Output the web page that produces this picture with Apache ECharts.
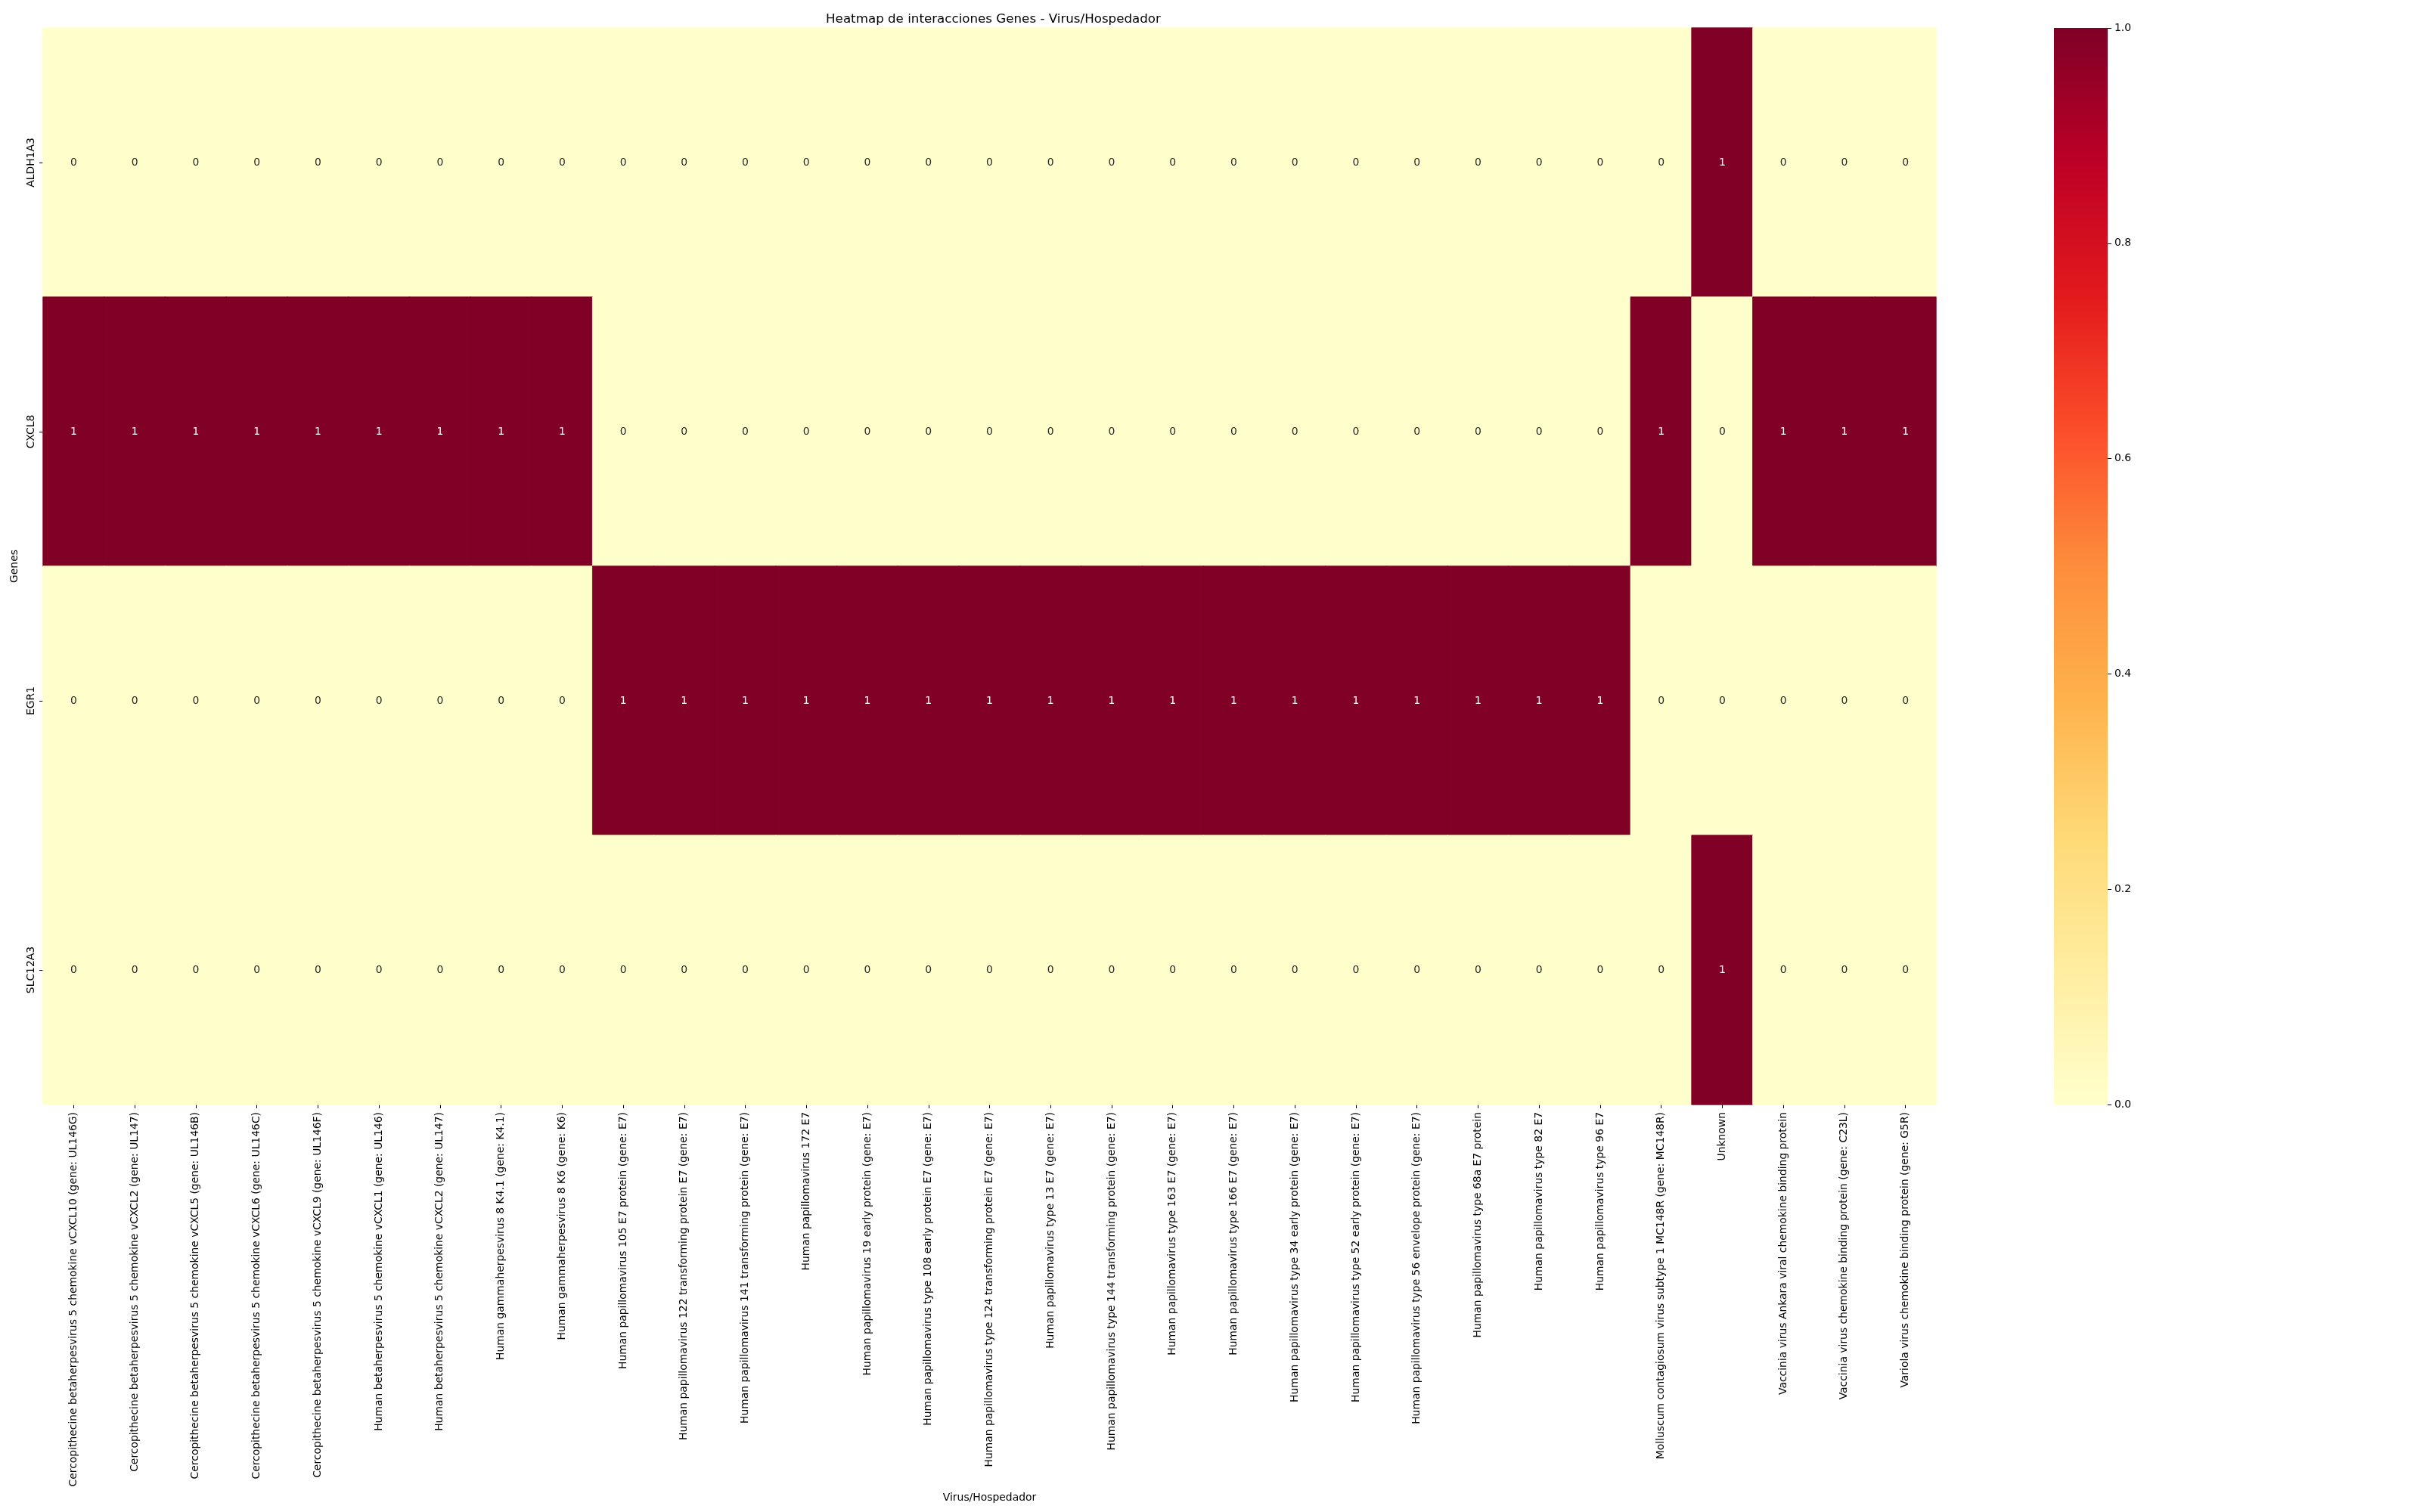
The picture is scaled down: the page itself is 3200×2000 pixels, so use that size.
<!DOCTYPE html>
<html>
<head>
<meta charset="utf-8">
<script src="https://cdn.jsdelivr.net/npm/echarts@6/dist/echarts.min.js"></script>
<style>
html,body{margin:0;padding:0;background:#fff;}
#chart{width:3200px;height:2000px;}
</style>
</head>
<body>
<div id="chart"></div>
<script>
const viruses = [
  "Cercopithecine betaherpesvirus 5 chemokine vCXCL10 (gene: UL146G)",
  "Cercopithecine betaherpesvirus 5 chemokine vCXCL2 (gene: UL147)",
  "Cercopithecine betaherpesvirus 5 chemokine vCXCL5 (gene: UL146B)",
  "Cercopithecine betaherpesvirus 5 chemokine vCXCL6 (gene: UL146C)",
  "Cercopithecine betaherpesvirus 5 chemokine vCXCL9 (gene: UL146F)",
  "Human betaherpesvirus 5 chemokine vCXCL1 (gene: UL146)",
  "Human betaherpesvirus 5 chemokine vCXCL2 (gene: UL147)",
  "Human gammaherpesvirus 8 K4.1 (gene: K4.1)",
  "Human gammaherpesvirus 8 K6 (gene: K6)",
  "Human papillomavirus 105 E7 protein (gene: E7)",
  "Human papillomavirus 122 transforming protein E7 (gene: E7)",
  "Human papillomavirus 141 transforming protein (gene: E7)",
  "Human papillomavirus 172 E7",
  "Human papillomavirus 19 early protein (gene: E7)",
  "Human papillomavirus type 108 early protein E7 (gene: E7)",
  "Human papillomavirus type 124 transforming protein E7 (gene: E7)",
  "Human papillomavirus type 13 E7 (gene: E7)",
  "Human papillomavirus type 144 transforming protein (gene: E7)",
  "Human papillomavirus type 163 E7 (gene: E7)",
  "Human papillomavirus type 166 E7 (gene: E7)",
  "Human papillomavirus type 34 early protein (gene: E7)",
  "Human papillomavirus type 52 early protein (gene: E7)",
  "Human papillomavirus type 56 envelope protein (gene: E7)",
  "Human papillomavirus type 68a E7 protein",
  "Human papillomavirus type 82 E7",
  "Human papillomavirus type 96 E7",
  "Molluscum contagiosum virus subtype 1 MC148R (gene: MC148R)",
  "Unknown",
  "Vaccinia virus Ankara viral chemokine binding protein",
  "Vaccinia virus chemokine binding protein (gene: C23L)",
  "Variola virus chemokine binding protein (gene: G5R)"
];
const genes = ["ALDH1A3", "CXCL8", "EGR1", "SLC12A3"];
const aldh1a3Values = [0,0,0,0,0,0,0,0,0, 0,0,0,0,0,0,0,0,0,0,0,0,0,0,0,0,0, 0,1,0,0,0];
const cxcl8Values   = [1,1,1,1,1,1,1,1,1, 0,0,0,0,0,0,0,0,0,0,0,0,0,0,0,0,0, 1,0,1,1,1];
const egr1Values    = [0,0,0,0,0,0,0,0,0, 1,1,1,1,1,1,1,1,1,1,1,1,1,1,1,1,1, 0,0,0,0,0];
const slc12a3Values = [0,0,0,0,0,0,0,0,0, 0,0,0,0,0,0,0,0,0,0,0,0,0,0,0,0,0, 0,1,0,0,0];
const colorbarMin = 0, colorbarMax = 1, colorbarStep = 0.2;

const rows = [aldh1a3Values, cxcl8Values, egr1Values, slc12a3Values];
const ylorrd = ['#ffffcc','#ffeda0','#fed976','#feb24c','#fd8d3c','#fc4e2a','#e31a1c','#bd0026','#800026'];
const FONT = 'DejaVu Sans';

function cmap(v) {
  const t = (v - colorbarMin) / (colorbarMax - colorbarMin);
  return ylorrd[Math.round(t * (ylorrd.length - 1))];
}

const heatData = [];
rows.forEach((row, gi) => {
  row.forEach((v, vi) => {
    heatData.push({
      value: [vi, gi, v],
      itemStyle: { borderColor: cmap(v), borderWidth: 0.8 },
      label: { color: v > 0.5 ? '#ffffff' : '#262626' }
    });
  });
});

const gridL = 57, gridT = 37, gridW = 2503, gridH = 1424;

const chart = echarts.init(document.getElementById('chart'), null, {renderer: 'canvas'});
chart.setOption({
  backgroundColor: '#ffffff',
  animation: false,
  textStyle: { fontFamily: FONT },
  title: {
    text: 'Heatmap de interacciones Genes - Virus/Hospedador',
    left: gridL + gridW / 2,
    textAlign: 'center',
    top: 12,
    textStyle: { fontFamily: FONT, fontSize: 16.7, fontWeight: 'normal', color: '#000' }
  },
  grid: [
    { left: gridL, top: gridT, width: gridW, height: gridH, containLabel: false },
    { left: 2716, top: gridT, width: 71, height: gridH, containLabel: false }
  ],
  xAxis: [
    {
      type: 'category', gridIndex: 0, data: viruses,
      axisLine: { show: false },
      axisTick: { show: true, alignWithLabel: true, length: 5, lineStyle: { color: '#000', width: 1 } },
      axisLabel: { rotate: 90, interval: 0, margin: 10, fontSize: 13.9, color: '#000', fontFamily: FONT },
      splitLine: { show: false },
      name: 'Virus/Hospedador', nameLocation: 'middle', nameGap: 496,
      nameTextStyle: { fontSize: 13.9, color: '#000', fontFamily: FONT }
    },
    {
      type: 'category', gridIndex: 1, data: ['cb'], show: false
    }
  ],
  yAxis: [
    {
      type: 'category', gridIndex: 0, data: genes, inverse: true,
      axisLine: { show: false },
      axisTick: { show: true, alignWithLabel: true, length: 5, lineStyle: { color: '#000', width: 1 } },
      axisLabel: { rotate: 90, interval: 0, margin: 9, fontSize: 13.9, color: '#000', fontFamily: FONT },
      splitLine: { show: false },
      name: 'Genes', nameLocation: 'middle', nameGap: 27,
      nameTextStyle: { fontSize: 13.9, color: '#000', fontFamily: FONT }
    },
    {
      type: 'value', gridIndex: 1, position: 'right',
      min: colorbarMin, max: colorbarMax, interval: colorbarStep,
      axisLine: { show: false },
      axisTick: { show: true, length: 5, lineStyle: { color: '#000', width: 1 } },
      axisLabel: { margin: 9, fontSize: 13.9, color: '#000', fontFamily: FONT,
        formatter: v => v.toFixed(1) },
      splitLine: { show: false }
    }
  ],
  visualMap: {
    show: false, type: 'continuous', seriesIndex: 0, dimension: 2,
    min: colorbarMin, max: colorbarMax,
    inRange: { color: ylorrd }
  },
  series: [
    {
      type: 'heatmap', xAxisIndex: 0, yAxisIndex: 0,
      data: heatData,
      label: { show: true, fontSize: 13.9, fontFamily: FONT,
        formatter: p => String(p.value[2]) },
      emphasis: { disabled: true }
    },
    {
      type: 'bar', xAxisIndex: 1, yAxisIndex: 1,
      data: [colorbarMax], barWidth: '100%',
      itemStyle: {
        color: new echarts.graphic.LinearGradient(0, 1, 0, 0,
          ylorrd.map((c, i) => ({ offset: i / (ylorrd.length - 1), color: c })))
      },
      silent: true
    }
  ]
});
</script>
</body>
</html>
